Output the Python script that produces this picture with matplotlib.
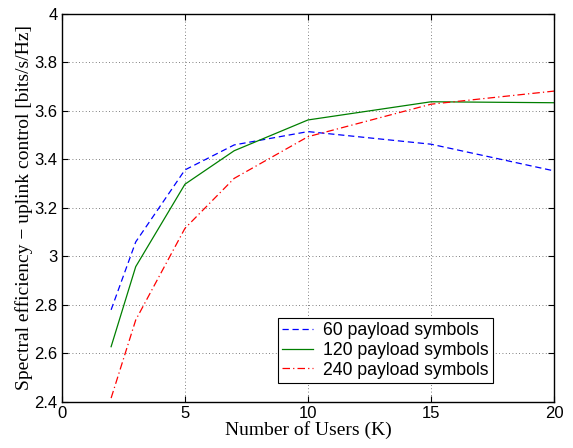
import matplotlib
matplotlib.use('Agg')
import matplotlib.pyplot as plt

users = [2, 3, 5, 7, 10, 15, 20]
se_60 = [2.78, 3.06, 3.357, 3.46, 3.515, 3.463, 3.353]
se_120 = [2.628, 2.958, 3.298, 3.436, 3.563, 3.638, 3.634]
se_240 = [2.416, 2.738, 3.116, 3.322, 3.494, 3.628, 3.682]
labels = ['60 payload symbols', '120 payload symbols', '240 payload symbols']
x_ticks = [0, 5, 10, 15, 20]
y_ticks = [2.4, 2.6, 2.8, 3.0, 3.2, 3.4, 3.6, 3.8, 4.0]
y_ticklabels = ['2.4', '2.6', '2.8', '3', '3.2', '3.4', '3.6', '3.8', '4']

plt.rcParams['font.family'] = ['Liberation Sans', 'DejaVu Sans']

fig = plt.figure(figsize=(5.73, 4.48), dpi=100)
ax = fig.add_axes([0.108, 0.1027, 0.859, 0.8661])

ax.plot(users, se_60, color='#0000ff', linestyle=(0, (5, 3)), linewidth=0.9, label=labels[0])
ax.plot(users, se_120, color='#007f00', linestyle='-', linewidth=0.9, label=labels[1])
ax.plot(users, se_240, color='#ff0000', linestyle=(0, (6, 2.5, 1, 2.5)), linewidth=0.9, label=labels[2])

ax.set_xlim(0, 20)
ax.set_ylim(2.4, 4.0)
ax.set_xticks(x_ticks)
ax.set_yticks(y_ticks)
ax.set_yticklabels(y_ticklabels)
ax.tick_params(direction='in', top=True, right=True, labelsize=12, length=4, width=0.8, pad=3)
ax.grid(True, linestyle=(0, (1, 3)), color='#555555', linewidth=0.6)
for s in ax.spines.values():
    s.set_linewidth(1.0)

ax.set_xlabel('Number of Users (K)', family='Liberation Serif', fontsize=14, labelpad=0)
ax.set_ylabel('Spectral efficiency \u2212 uplink control [bits/s/Hz]', family='Liberation Serif',
              fontsize=14, labelpad=1)

leg = ax.legend(loc='lower right', bbox_to_anchor=(0.876, 0.049), fontsize=12.7, fancybox=False,
                framealpha=1, edgecolor='black', borderpad=0.25, labelspacing=0.15,
                handlelength=1.75, handletextpad=0.55, borderaxespad=0)
leg.get_frame().set_linewidth(0.8)

fig.savefig('out.png', dpi=100)
